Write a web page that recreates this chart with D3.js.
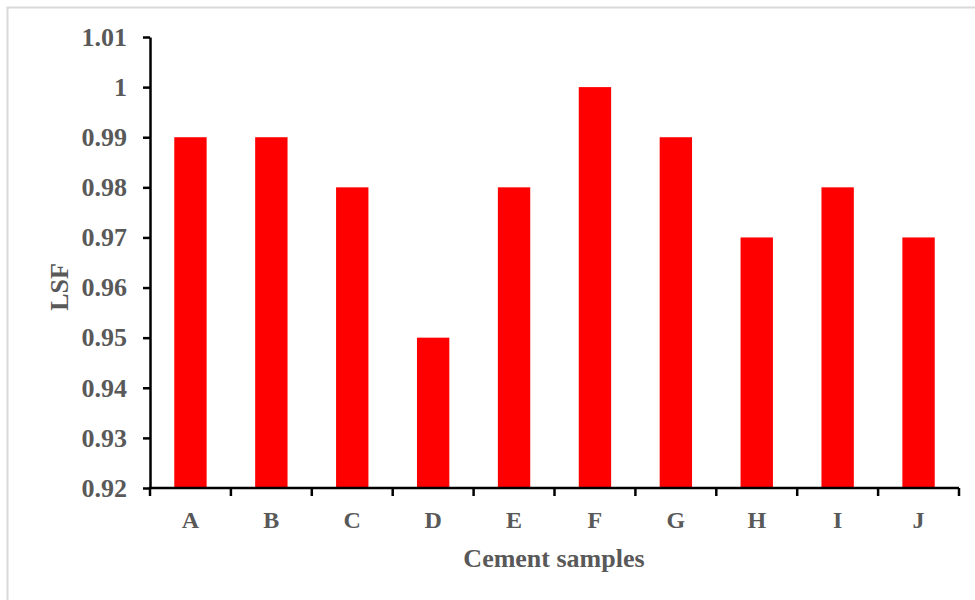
<!DOCTYPE html>
<html><head><meta charset="utf-8">
<script src="https://cdn.jsdelivr.net/npm/d3@7"></script>
<style>body{margin:0;background:#fff}</style>
</head><body>
<script>
const categories = ["A","B","C","D","E","F","G","H","I","J"];
const lsfValues = [0.99,0.99,0.98,0.95,0.98,1.00,0.99,0.97,0.98,0.97];
const yTicks = [0.92,0.93,0.94,0.95,0.96,0.97,0.98,0.99,1.00,1.01];
const yTickLabels = ["0.92","0.93","0.94","0.95","0.96","0.97","0.98","0.99","1","1.01"];

const W = 975, H = 600;
const svg = d3.select("body").append("svg").attr("width", W).attr("height", H);
svg.append("rect").attr("x",7.5).attr("y",7.5).attr("width",W).attr("height",H)
  .attr("fill","#fff").attr("stroke","#d9d9d9").attr("stroke-width",2);

const x = d3.scaleBand().domain(categories).range([150, 959]).paddingInner(0.6).paddingOuter(0.3);
const y = d3.scaleLinear().domain([0.92, 1.01]).range([488, 37]);
const font = "'Liberation Serif','Times New Roman',serif";
const gray = "#595959";

svg.append("g").selectAll("rect").data(categories).join("rect")
  .attr("x", d => x(d)).attr("width", x.bandwidth())
  .attr("y", (d,i) => y(lsfValues[i])).attr("height", (d,i) => y(0.92) - y(lsfValues[i]))
  .attr("fill", "#ff0000");

const yAxis = svg.append("g").attr("transform","translate(150,0)")
  .call(d3.axisLeft(y).tickValues(yTicks).tickFormat((d,i)=>yTickLabels[i]).tickSize(7).tickSizeOuter(0).tickPadding(16));
yAxis.select(".domain").attr("stroke","#000").attr("stroke-width",2.5);
yAxis.selectAll(".tick line").attr("stroke","#000").attr("stroke-width",2.5);
yAxis.selectAll("text").attr("font-family",font).attr("font-weight","bold").attr("font-size",26).attr("fill",gray);

// x axis: ticks at band boundaries
const step = x.step();
const boundaries = d3.range(categories.length + 1).map(i => 150 + i * (809 / categories.length));
const xg = svg.append("g");
xg.append("line").attr("x1",148.75).attr("x2",959).attr("y1",488).attr("y2",488).attr("stroke","#000").attr("stroke-width",2.5);
xg.selectAll("line.t").data(boundaries).join("line").attr("class","t")
  .attr("x1",d=>d).attr("x2",d=>d).attr("y1",488).attr("y2",496).attr("stroke","#000").attr("stroke-width",2.5);
xg.selectAll("text").data(categories).join("text")
  .attr("x", d => x(d) + x.bandwidth()/2).attr("y", 528)
  .attr("text-anchor","middle").attr("font-family",font).attr("font-weight","bold").attr("font-size",24).attr("fill",gray)
  .text(d=>d);

svg.append("text").attr("x",554).attr("y",567).attr("text-anchor","middle")
  .attr("font-family",font).attr("font-weight","bold").attr("font-size",26).attr("fill",gray).text("Cement samples");
svg.append("text").attr("transform","translate(68,287) rotate(-90)").attr("text-anchor","middle")
  .attr("font-family",font).attr("font-weight","bold").attr("font-size",26).attr("fill",gray).text("LSF");
</script>
</body></html>
